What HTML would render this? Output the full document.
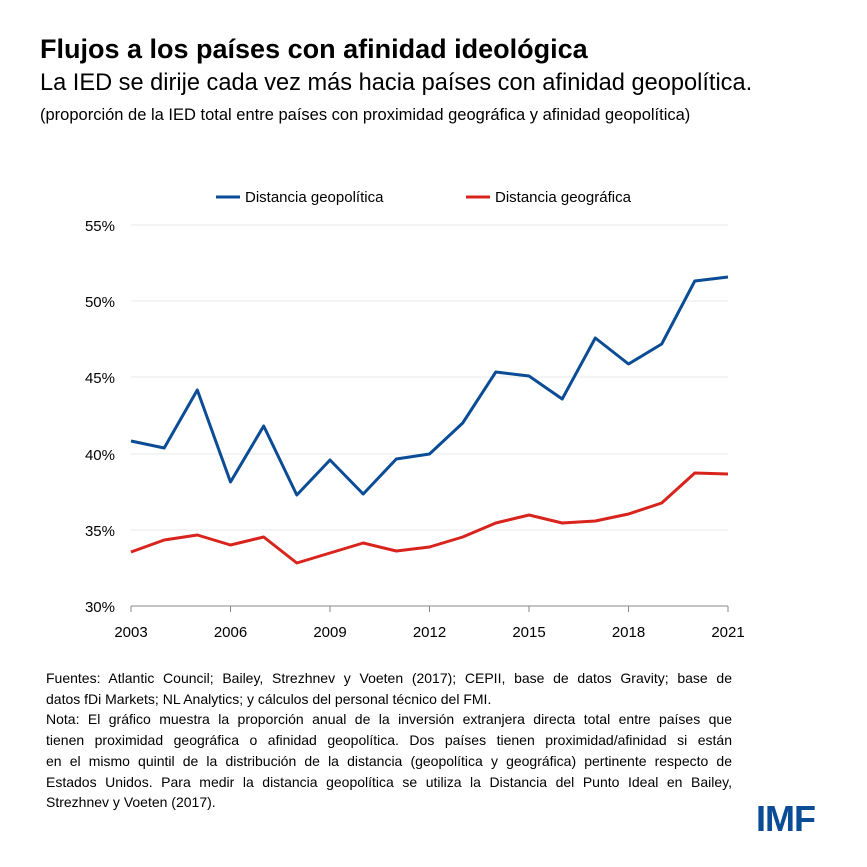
<!DOCTYPE html>
<html><head><meta charset="utf-8"><style>
body{margin:0;background:#fff;width:867px;height:867px;overflow:hidden;font-family:"Liberation Sans",sans-serif;position:relative}
.t{position:absolute;white-space:nowrap;color:#000}
.fn{position:absolute;left:46px;width:686px;font-size:14px;white-space:nowrap;line-height:20px}
.j{text-align:justify;text-align-last:justify}
</style></head><body>
<div class="t" style="left:40px;top:34px;font-size:27px;font-weight:bold">Flujos a los países con afinidad ideológica</div>
<div class="t" style="left:40px;top:70px;font-size:23.6px">La IED se dirije cada vez más hacia países con afinidad geopolítica.</div>
<div class="t" style="left:40px;top:106px;font-size:16.5px">(proporción de la IED total entre países con proximidad geográfica y afinidad geopolítica)</div>
<svg width="867" height="867" style="position:absolute;left:0;top:0" font-family="Liberation Sans, sans-serif">
<g stroke="#e8e8e8" stroke-width="1">
<line x1="131" x2="728" y1="225" y2="225"/><line x1="131" x2="728" y1="301" y2="301"/><line x1="131" x2="728" y1="377" y2="377"/><line x1="131" x2="728" y1="454" y2="454"/><line x1="131" x2="728" y1="530" y2="530"/>
</g>
<line x1="131" x2="728" y1="606" y2="606" stroke="#888"/>
<g stroke="#888"><line x1="131" x2="131" y1="606" y2="612"/><line x1="230.5" x2="230.5" y1="606" y2="612"/><line x1="330" x2="330" y1="606" y2="612"/><line x1="429.5" x2="429.5" y1="606" y2="612"/><line x1="529" x2="529" y1="606" y2="612"/><line x1="628.5" x2="628.5" y1="606" y2="612"/><line x1="728" x2="728" y1="606" y2="612"/></g>
<g font-size="15" text-anchor="end" fill="#000"><text x="115" y="231">55%</text><text x="115" y="307">50%</text><text x="115" y="383">45%</text><text x="115" y="460">40%</text><text x="115" y="536">35%</text><text x="115" y="612">30%</text></g>
<g font-size="15" text-anchor="middle" fill="#000"><text x="131" y="637">2003</text><text x="230.5" y="637">2006</text><text x="330" y="637">2009</text><text x="429.5" y="637">2012</text><text x="529" y="637">2015</text><text x="628.5" y="637">2018</text><text x="728" y="637">2021</text></g>
<line x1="216" x2="240" y1="197" y2="197" stroke="#0a4c95" stroke-width="3"/>
<text x="245" y="202" font-size="15">Distancia geopolítica</text>
<line x1="466" x2="490" y1="197" y2="197" stroke="#d9231d" stroke-width="3"/>
<text x="495" y="202" font-size="15">Distancia geográfica</text>
<polyline fill="none" stroke="#0a4c95" stroke-width="3" stroke-linejoin="round" points="131,441 164.2,448 197.3,390 230.5,482 263.7,426 296.8,495 330,460 363.2,494 396.3,459 429.5,454 462.7,423 495.8,372 529,376 562.2,399 595.3,338 628.5,364 661.7,344 694.8,281 728,277"/>
<polyline fill="none" stroke="#d9231d" stroke-width="3" stroke-linejoin="round" points="131,552 164.2,540 197.3,535 230.5,545 263.7,537 296.8,563 330,553 363.2,543 396.3,551 429.5,547 462.7,537 495.8,523 529,515 562.2,523 595.3,521 628.5,514 661.7,503 694.8,473 728,474"/>
</svg>
<div class="fn j" style="top:668px">Fuentes: Atlantic Council; Bailey, Strezhnev y Voeten (2017); CEPII, base de datos Gravity; base de</div>
<div class="fn" style="top:688.7px">datos fDi Markets; NL Analytics; y cálculos del personal técnico del FMI.</div>
<div class="fn j" style="top:709.4px">Nota: El gráfico muestra la proporción anual de la inversión extranjera directa total entre países que</div>
<div class="fn j" style="top:730.1px">tienen proximidad geográfica o afinidad geopolítica. Dos países tienen proximidad/afinidad si están</div>
<div class="fn j" style="top:750.8px">en el mismo quintil de la distribución de la distancia (geopolítica y geográfica) pertinente respecto de</div>
<div class="fn j" style="top:771.5px">Estados Unidos. Para medir la distancia geopolítica se utiliza la Distancia del Punto Ideal en Bailey,</div>
<div class="fn" style="top:792.2px">Strezhnev y Voeten (2017).</div>
<div class="t" style="left:756px;top:798px;font-size:36px;font-weight:bold;color:#0a4c95;letter-spacing:-1px">IMF</div>
</body></html>
